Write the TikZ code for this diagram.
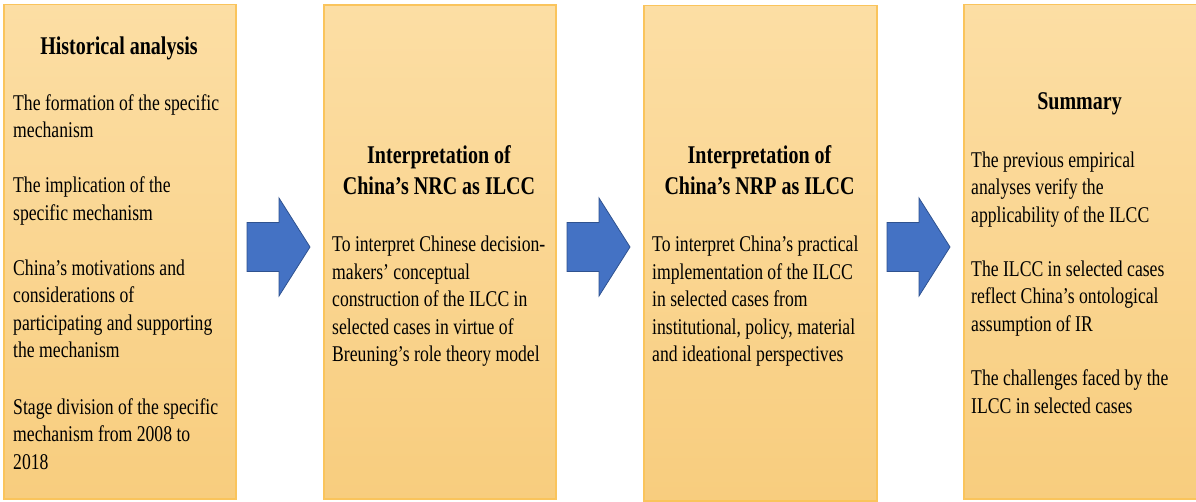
\documentclass[tikz,border=0pt]{standalone}
\usepackage{fontspec}
\setmainfont{Liberation Serif}[FakeStretch=0.785]
\definecolor{paneltop}{RGB}{252,222,164}
\definecolor{panelbottom}{RGB}{248,205,126}
\definecolor{panelline}{RGB}{250,196,92}
\definecolor{arrowfill}{RGB}{68,114,196}
\definecolor{arrowline}{RGB}{47,82,143}
\begin{document}
\begin{tikzpicture}[x=1pt,y=-1pt,
  panel/.style={draw=panelline, line width=1.6pt, top color=paneltop,
    bottom color=panelbottom, anchor=north west, inner sep=0pt},
  heading/.style={inner sep=0pt, anchor=base,
    font=\bfseries\fontsize{25.5}{31}\selectfont},
  bodytext/.style={inner sep=0pt, anchor=base west,
    font=\fontsize{22.5}{27.5}\selectfont},
  blockarrow/.pic={
    \draw[fill=arrowfill, draw=arrowline, line width=0.8pt, line join=miter]
      (0,-24.5) -- (32,-24.5) -- (32,-49) -- (63,0) -- (32,49)
      -- (32,24.5) -- (0,24.5) -- cycle;}]
\useasboundingbox (0,0) rectangle (1196,501);

% four panels
\node[panel, minimum width=232pt, minimum height=494.5pt] (p1) at (3,3.5) {};
\node[panel, minimum width=232pt, minimum height=494pt] (p2) at (323,4) {};
\node[panel, minimum width=233pt, minimum height=495.5pt] (p3) at (643,4.5) {};
\node[panel, minimum width=234pt, minimum height=494.5pt] (p4) at (963,3.5) {};

% block arrows between panels
\pic at (247,247) {blockarrow};
\pic at (567,247) {blockarrow};
\pic at (887,247) {blockarrow};

% panel 1
\node[heading] (h1) at (119,54) {Historical analysis};
\node[bodytext] (a1) at (13,110) {\parbox[t]{220pt}{The formation of the specific\\mechanism}};
\node[bodytext] (a2) at (13,192.5) {\parbox[t]{220pt}{The implication of the\\specific mechanism}};
\node[bodytext] (a3) at (13,275) {\parbox[t]{220pt}{China’s motivations and\\considerations of\\participating and supporting\\the mechanism}};
\node[bodytext] (a4) at (13,414) {\parbox[t]{220pt}{Stage division of the specific\\mechanism from 2008 to\\2018}};

% panel 2
\node[heading] (h2) at (439,163) {\parbox[t]{230pt}{\centering Interpretation of\\China’s NRC as ILCC}};
\node[bodytext] (b1) at (332,251.5) {\parbox[t]{222pt}{To interpret Chinese decision-\\makers’ conceptual\\construction of the ILCC in\\selected cases in virtue of\\Breuning’s role theory model}};

% panel 3
\node[heading] (h3) at (759.5,163) {\parbox[t]{230pt}{\centering Interpretation of\\China’s NRP as ILCC}};
\node[bodytext] (c1) at (652,251.5) {\parbox[t]{222pt}{To interpret China’s practical\\implementation of the ILCC\\in selected cases from\\institutional, policy, material\\and ideational perspectives}};

% panel 4
\node[heading] (h4) at (1079.5,109) {Summary};
\node[bodytext] (d1) at (971,167) {\parbox[t]{222pt}{The previous empirical\\analyses verify the\\applicability of the ILCC}};
\node[bodytext] (d2) at (971,276) {\parbox[t]{222pt}{The ILCC in selected cases\\reflect China’s ontological\\assumption of IR}};
\node[bodytext] (d3) at (971,385.5) {\parbox[t]{222pt}{The challenges faced by the\\ILCC in selected cases}};
\end{tikzpicture}
\end{document}
